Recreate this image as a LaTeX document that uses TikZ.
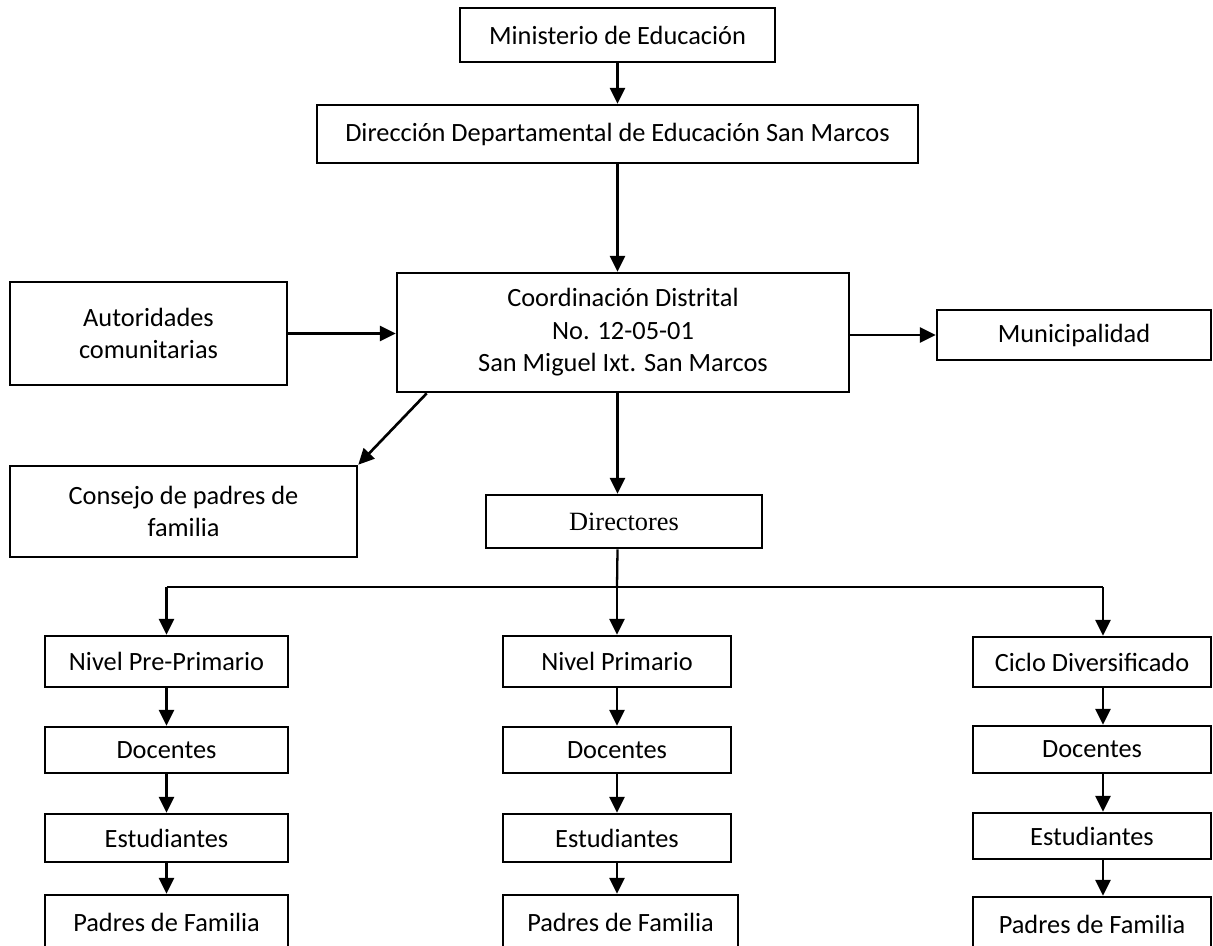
\documentclass[tikz,border=0pt]{standalone}
\usepackage{fontspec}
\setmainfont{Carlito}
\newfontfamily\timesfont{Liberation Serif}
\usetikzlibrary{arrows.meta}
\tikzset{>={Triangle[length=9pt,width=8.5pt]}}

\begin{document}
\begin{tikzpicture}[x=0.02cm,y=-0.02cm,
    caja/.style={draw,line width=1.5pt,align=center,inner sep=0pt,
      font=\fontsize{15}{18.5}\selectfont},
    flecha/.style={->,line width=1.5pt}]
    \useasboundingbox (0,0) rectangle (1213,946);

    \node[caja,minimum width=6.3cm,minimum height=1.08cm] (mineduc) at (617.5,35) {Ministerio de Educación};
    \node[caja,minimum width=12.02cm,minimum height=1.16cm] (ddesm) at (617.5,134) {Dirección Departamental de Educación San Marcos};
    \node[caja,minimum width=9.04cm,minimum height=2.38cm] (coord) at (623,332.5) {Coordinación Distrital\\No. 12-05-01\\San Miguel Ixt. San Marcos};
    \node[caja,minimum width=5.54cm,minimum height=2.06cm] (autor) at (148.5,333.5) {Autoridades\\comunitarias};
    \node[caja,minimum width=5.48cm,minimum height=1cm] (muni) at (1074,335) {Municipalidad};
    \node[caja,minimum width=6.94cm,minimum height=1.82cm] (consejo) at (183.5,511.5) {Consejo de padres de\\familia};
    \node[caja,font=\timesfont\fontsize{15}{18}\selectfont,minimum width=5.52cm,minimum height=1.06cm] (direc) at (624,521.5) {Directores};

    % niveles
    \node[caja,minimum width=4.86cm,minimum height=1.02cm] (nivel1) at (166.5,661.5) {Nivel Pre-Primario};
    \node[caja,minimum width=4.86cm,minimum height=0.92cm] (doc1) at (166.5,750) {Docentes};
    \node[caja,minimum width=4.86cm,minimum height=0.96cm] (est1) at (166.5,838) {Estudiantes};
    \node[caja,minimum width=4.86cm,minimum height=1.08cm] (pad1) at (166.5,922) {Padres de Familia};

    \node[caja,minimum width=4.56cm,minimum height=1.02cm] (nivel2) at (617,661.5) {Nivel Primario};
    \node[caja,minimum width=4.56cm,minimum height=0.92cm] (doc2) at (617,750) {Docentes};
    \node[caja,minimum width=4.56cm,minimum height=0.96cm] (est2) at (617,838) {Estudiantes};
    \node[caja,minimum width=4.7cm,minimum height=1.08cm] (pad2) at (620.5,922) {Padres de Familia};

    \node[caja,minimum width=4.76cm,minimum height=1cm] (nivel3) at (1092,662) {Ciclo Diversificado};
    \node[caja,minimum width=4.76cm,minimum height=0.94cm] (doc3) at (1092,749.5) {Docentes};
    \node[caja,minimum width=4.76cm,minimum height=0.92cm] (est3) at (1092,836) {Estudiantes};
    \node[caja,minimum width=4.76cm,minimum height=1.08cm] (pad3) at (1092,924) {Padres de Familia};

    \coordinate (b1) at (166.5,587);
    \coordinate (b2) at (617,587);
    \coordinate (b3) at (1103,587);

    % conexiones
    \draw[flecha] (mineduc) -- (ddesm);
    \draw[flecha] (ddesm) -- (ddesm |- coord.north);
    \draw[flecha] (autor) -- (autor -| coord.west);
    \draw[flecha] (coord.east |- muni) -- (muni);
    \draw[flecha] ([xshift=0.62cm]coord.south west) -- (consejo.north east);
    \draw[flecha] (ddesm |- coord.south) -- (ddesm |- direc.north);
    \draw[line width=1.3pt] (ddesm |- direc.south) -- (b2);
    \draw[line width=1.3pt] (b1) -- (b3);

    \draw[flecha] (b1) -- (nivel1);
    \draw[flecha] (nivel1) -- (doc1);
    \draw[flecha] (doc1) -- (est1);
    \draw[flecha] (est1) -- (pad1);

    \draw[flecha] (b2) -- (nivel2);
    \draw[flecha] (nivel2) -- (doc2);
    \draw[flecha] (doc2) -- (est2);
    \draw[flecha] (est2) -- (b2 |- pad2.north);

    \draw[flecha] (b3) -- (b3 |- nivel3.north);
    \draw[flecha] (b3 |- nivel3.south) -- (b3 |- doc3.north);
    \draw[flecha] (b3 |- doc3.south) -- (b3 |- est3.north);
    \draw[flecha] (b3 |- est3.south) -- (b3 |- pad3.north);
\end{tikzpicture}
\end{document}
